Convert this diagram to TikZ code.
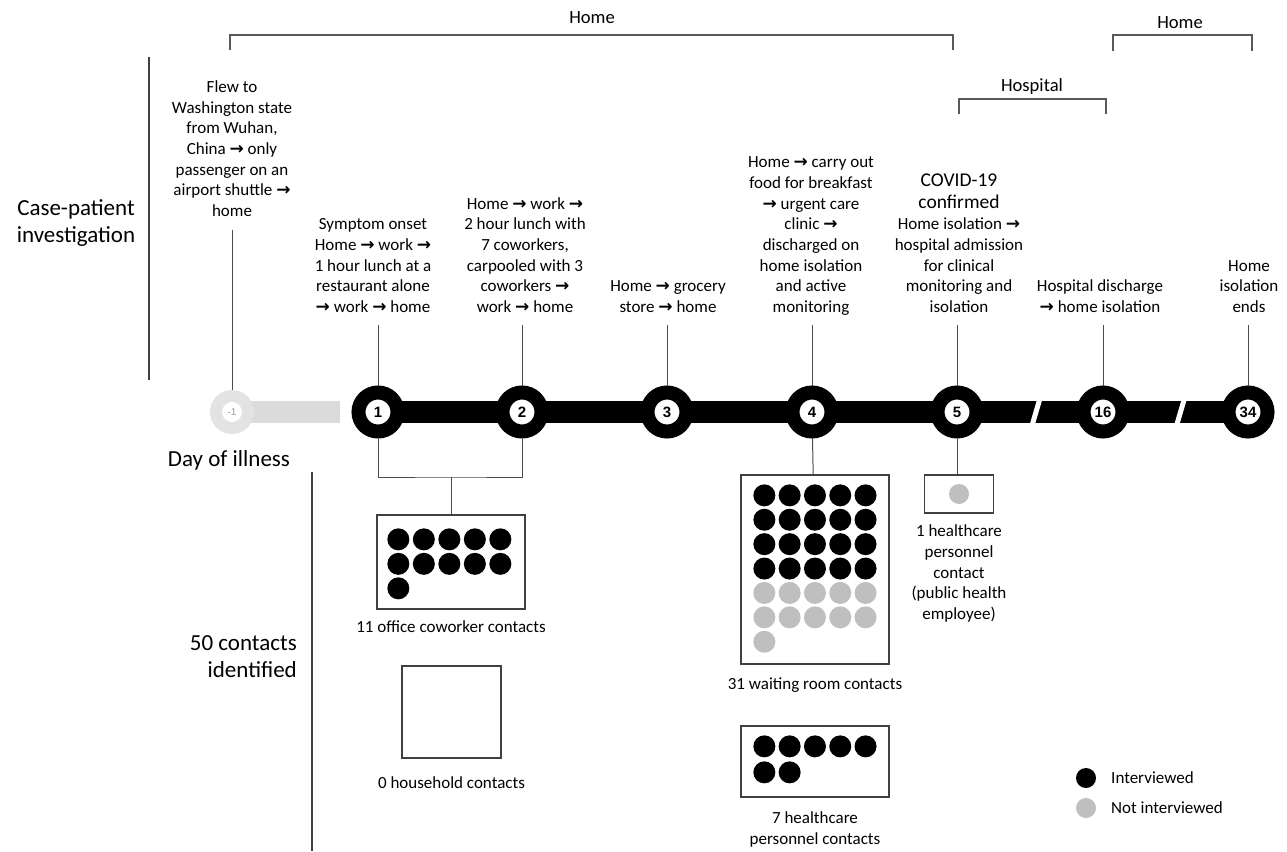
\documentclass[tikz,border=0pt]{standalone}
\usepackage{fontspec}
\setmainfont{Carlito}
\newfontfamily\numfont{Liberation Sans}
\newfontfamily\arrowfont{DejaVu Sans}
\usetikzlibrary{positioning}
\usetikzlibrary{calc}
\usetikzlibrary{backgrounds}

\newcommand{\rarr}{{\arrowfont\bfseries →}}
\newcommand{\evtfont}{\fontsize{17}{20.7}\selectfont}
\newcommand{\headfont}{\fontsize{23}{27}\selectfont}
\newcommand{\placefont}{\fontsize{18.6}{22}\selectfont}
\newcommand{\covfont}{\fontsize{19.5}{22}\selectfont}

\tikzset{
  evt/.style={align=center, anchor=south, inner sep=0pt, font=\evtfont},
  lbl/.style={align=center, inner sep=0pt, font=\evtfont},
  day/.style={circle, draw=black, line width=14pt, fill=white, minimum size=39pt, inner sep=0pt,
              font=\numfont\bfseries\fontsize{15}{15}\selectfont},
  dayold/.style={circle, draw=gray!22, line width=12pt, fill=white, minimum size=32pt, inner sep=0pt,
              text=gray!80, font=\numfont\fontsize{10}{10}\selectfont},
  tick/.style={draw=black!70, line width=1pt},
  brk/.style={draw=black!65, line width=1.6pt},
  axis/.style={draw=black!75, line width=1.5pt},
  box/.style={draw=black!75, line width=1.3pt, inner sep=0pt},
  yes/.style={circle, fill=black, minimum size=22pt, inner sep=0pt},
  no/.style={circle, fill=gray!50, minimum size=22pt, inner sep=0pt}
}

\begin{document}
\begin{tikzpicture}[x=1pt, y=-1pt]

         \useasboundingbox (0,0) rectangle (1287,851);

         \node[font=\headfont, align=center] (cpi) at (76,223) {Case-patient\\investigation};
         \draw[axis] (149,57) -- (149,380);
         \node[font=\headfont] (doi) at (229,460) {Day of illness};
         \node[font=\headfont, align=right, anchor=east, inner sep=0pt] (fifty) at (297,657) {50 contacts\\identified};
         \draw[axis] (312,472) -- (312,851);

         \draw[brk] (230,50) |- (953,35) -- (953,50);
         \node[font=\placefont] (home1) at (592,18) {Home};
         \draw[brk] (959,114) |- (1106,99) -- (1106,114);
         \node[font=\placefont] (hosp) at (1032,87) {Hospital};
         \draw[brk] (1113,51) |- (1252,35) -- (1252,51);
         \node[font=\placefont] (home2) at (1180,23) {Home};

         \node[dayold] (dm1) at (232,412) {-1};
         \node[day] (d1) at (378,412) {1};
         \node[day] (d2) at (522,412) {2};
         \node[day] (d3) at (667,412) {3};
         \node[day] (d4) at (812,412) {4};
         \node[day] (d5) at (957,412) {5};
         \node[day] (d16) at (1103,412) {16};
         \node[day] (d34) at (1248,412) {34};
         \coordinate (fade) at (340,412);

         \begin{scope}[on background layer]
           \fill[white] (0,0) rectangle (1287,851);
           \draw[line width=22pt, gray!28] (dm1.center) -- (fade);
           \draw[line width=22pt] (d1.center) -- (d2.center) -- (d3.center) -- (d4.center)
                 -- (d5.center) -- (d16.center) -- (d34.center);
         \end{scope}
         \draw[white, line width=5pt] ($(d5)!0.5!(d16)+(11,-17)$) -- ($(d5)!0.5!(d16)+(1,17)$);
         \draw[white, line width=5pt] ($(d16)!0.5!(d34)+(10,-17)$) -- ($(d16)!0.5!(d34)+(0,17)$);

         \node[evt] (tm1) at (232,223) {Flew to\\Washington state\\from Wuhan,\\China \rarr{} only\\passenger on an\\airport shuttle \rarr\\home\strut};
         \node[evt] (t1) at (373,319) {Symptom onset\\Home \rarr{} work \rarr\\1 hour lunch at a\\restaurant alone\\\rarr{} work \rarr{} home\strut};
         \node[evt] (t2) at (525,319) {Home \rarr{} work \rarr\\2 hour lunch with\\7 coworkers,\\carpooled with 3\\coworkers \rarr\\work \rarr{} home\strut};
         \node[evt] (t3) at (668,319) {Home \rarr{} grocery\\store \rarr{} home\strut};
         \node[evt] (t4) at (811,319) {Home \rarr{} carry out\\food for breakfast\\\rarr{} urgent care\\clinic \rarr\\discharged on\\home isolation\\and active\\monitoring\strut};
         \node[evt] (t5) at (959,319) {{\covfont COVID-19}\\[1pt]{\covfont confirmed}\\[1pt]Home isolation \rarr\\hospital admission\\for clinical\\monitoring and\\isolation\strut};
         \node[evt] (t16) at (1100,319) {Hospital discharge\\\rarr{} home isolation\strut};
         \node[evt] (t34) at (1249,319) {Home\\isolation\\ends\strut};

         \draw[tick] ([yshift=-7pt]tm1.south -| dm1) -- (dm1);
         \draw[tick] ([yshift=-6pt]t1.south -| d1) -- (d1);
         \draw[tick] ([yshift=-6pt]t2.south -| d2) -- (d2);
         \draw[tick] ([yshift=-6pt]t3.south -| d3) -- (d3);
         \draw[tick] ([yshift=-6pt]t4.south -| d4) -- (d4);
         \draw[tick] ([yshift=-6pt]t5.south -| d5) -- (d5);
         \draw[tick] ([yshift=-6pt]t16.south -| d16) -- (d16);
         \draw[tick] ([yshift=-6pt]t34.south -| d34) -- (d34);

         \node[box, minimum width=148pt, minimum height=94pt] (cow) at (451,562) {};
         \coordinate (cowj) at (451,477);
         \draw[tick] (d1) |- (cowj) -| (d2);
         \draw[tick] (cowj) -- (cow);
         \foreach \k in {0,...,10}
            \node[yes] (c\k) at ($(cow.north west)+({22+25.5*mod(\k,5)},{25+24.5*int(\k/5)})$) {};
         \node[lbl, below=11pt of cow] (cowl) {11 office coworker contacts};

         \node[box, minimum width=99pt, minimum height=92pt] (house) at (451.5,712) {};
         \node[lbl, below=18pt of house] (housel) {0 household contacts};

         \node[box, minimum width=148pt, minimum height=189pt] (wait) at (815,569.5) {};
         \draw[tick] (d4) -- (wait);
         \foreach \k in {0,...,19}
            \node[yes] (w\k) at ($(wait.north west)+({24+25.3*mod(\k,5)},{21+24.4*int(\k/5)})$) {};
         \foreach \k in {20,...,30}
            \node[no] (w\k) at ($(wait.north west)+({24+25.3*mod(\k,5)},{21+24.4*int(\k/5)})$) {};
         \node[lbl, below=13pt of wait] (waitl) {31 waiting room contacts};

         \node[box, minimum width=69pt, minimum height=38pt] (hcpa) at (959,494) {};
         \draw[tick] (d5) -- (d5 |- hcpa.north);
         \node[no, minimum size=20pt] (h0) at (hcpa) {};
         \node[lbl, below=11pt of hcpa] (hcpal) {1 healthcare\\personnel\\contact\\(public health\\employee)};

         \node[box, minimum width=148pt, minimum height=71pt] (hcpb) at (815,761.5) {};
         \foreach \k in {0,...,6}
            \node[yes] (p\k) at ($(hcpb.north west)+({24+25.3*mod(\k,5)},{21+26*int(\k/5)})$) {};
         \node[lbl, below=14pt of hcpb] (hcpbl) {7 healthcare\\personnel contacts};

         \node[yes, minimum size=20pt] (ly) at (1086,778) {};
         \node[lbl, anchor=west] (lyt) at (1111,778) {Interviewed};
         \node[no, minimum size=20pt] (ln) at (1086,808) {};
         \node[lbl, anchor=west] (lnt) at (1111,808) {Not interviewed};

\end{tikzpicture}
\end{document}
